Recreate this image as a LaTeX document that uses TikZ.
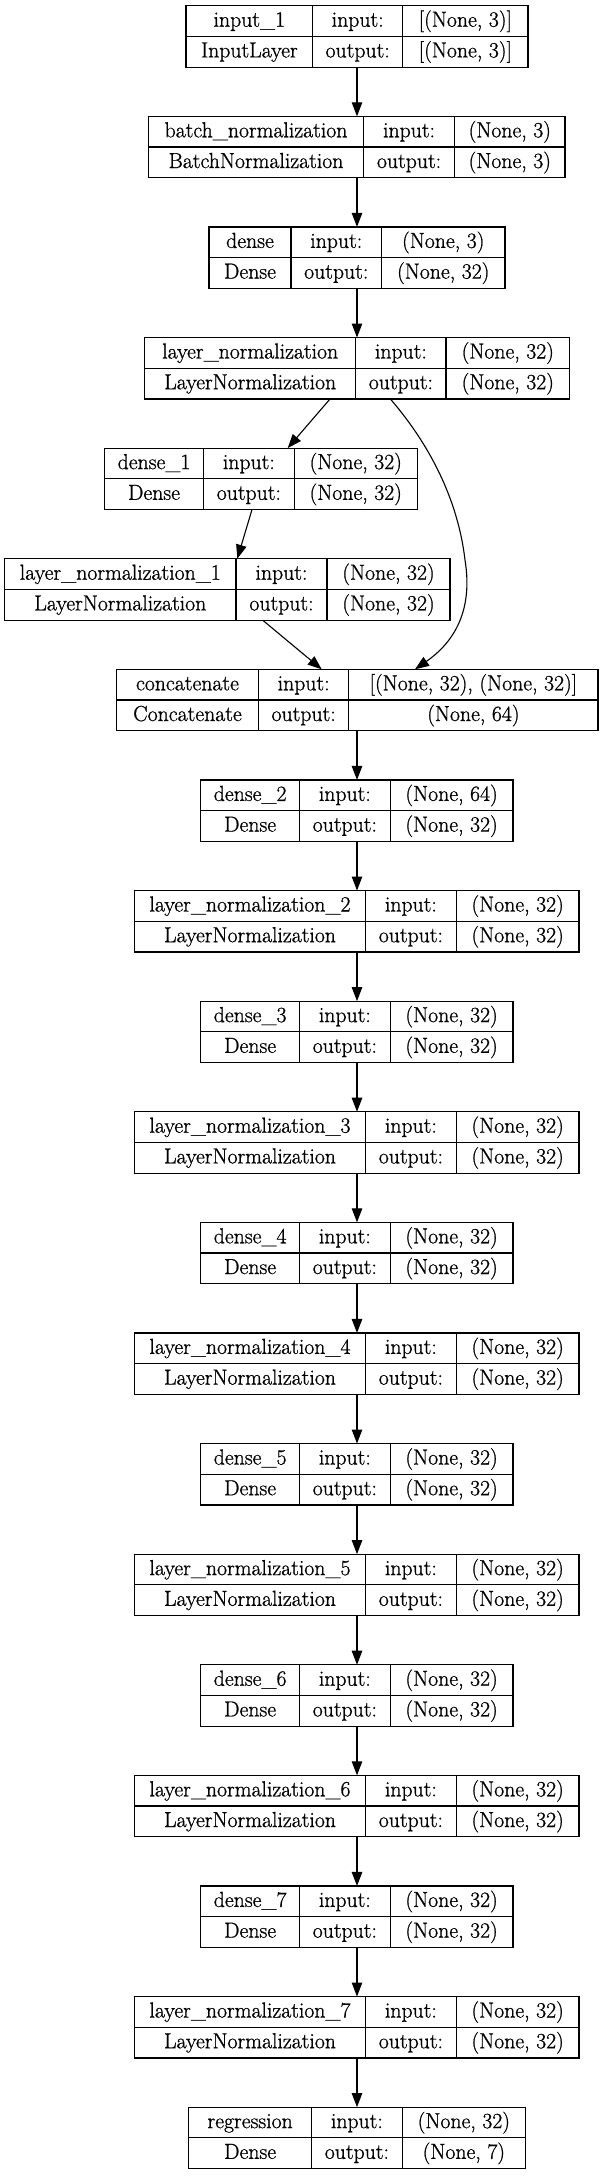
\documentclass[tikz,border=0pt]{standalone}
\usepackage{fontspec}
\setmainfont{Latin Modern Roman}[FakeBold=0.9]
\usetikzlibrary{arrows.meta}
\tikzset{
  boxframe/.style={draw=black, line width=1.2pt, inner sep=0pt, outer sep=0pt, rectangle},
  cellline/.style={draw=black, line width=1.2pt},
  lbl/.style={inner sep=0pt, anchor=base, font=\fontsize{21.75}{26}\selectfont},
  arr/.style={-{Triangle[length=14pt,width=10.5pt]}, line width=1.1pt},
}
\newcommand\kbox[6]{%
  \pgfmathsetmacro\kT{5.7+110.6*#2}%
  \pgfmathsetmacro\kB{\kT+61.5}%
  \pgfmathsetmacro\kM{\kT+30.75}%
  \node[boxframe, minimum width={#6-#3}, minimum height=61.5, anchor=north west] (#1) at (#3,\kT) {};
  \draw[cellline] (#3,\kM) -- (#6,\kM) (#4,\kT) -- (#4,\kB) (#5,\kT) -- (#5,\kB);
  \pgfmathsetmacro\kca{(#3+#4)/2}%
  \pgfmathsetmacro\kcb{(#4+#5)/2}%
  \pgfmathsetmacro\kcc{(#5+#6)/2}%
  \def\kname{#1}%
}
\newcommand\ktext[4]{%
  \node[lbl] (\kname-name) at (\kca,\kT+21) {#1};
  \node[lbl] (\kname-type) at (\kca,\kT+51.7) {#2};
  \node[lbl] (\kname-inl) at (\kcb,\kT+21) {input:};
  \node[lbl] (\kname-outl) at (\kcb,\kT+51.7) {output:};
  \node[lbl] (\kname-in) at (\kcc,\kT+21) {#3};
  \node[lbl] (\kname-out) at (\kcc,\kT+51.7) {#4};
}
\begin{document}
\begin{tikzpicture}[x=1pt,y=-1pt]
\fill[white] (0,0) rectangle (602,2176);
\useasboundingbox (0,0) rectangle (602,2176);
\coordinate (axis) at (357,0);

\kbox{in1}{0}{186}{312.7}{402.7}{528}
\ktext{input\_1}{InputLayer}{[(None, 3)]}{[(None, 3)]}
\kbox{bn}{1}{148.5}{363.5}{454.6}{565}
\ktext{batch\_normalization}{BatchNormalization}{(None, 3)}{(None, 3)}
\kbox{d0}{2}{209}{291}{381.5}{505}
\ktext{dense}{Dense}{(None, 3)}{(None, 32)}
\kbox{ln0}{3}{144.6}{355.8}{446}{569.6}
\ktext{layer\_normalization}{LayerNormalization}{(None, 32)}{(None, 32)}
\kbox{d1}{4}{104.6}{203.5}{294.2}{417.3}
\ktext{dense\_1}{Dense}{(None, 32)}{(None, 32)}
\kbox{ln1}{5}{4.6}{236}{327}{450}
\ktext{layer\_normalization\_1}{LayerNormalization}{(None, 32)}{(None, 32)}
\kbox{cat}{6}{116.5}{258.5}{348.8}{598}
\ktext{concatenate}{Concatenate}{[(None, 32), (None, 32)]}{(None, 64)}
\kbox{d2}{7}{200.8}{299.5}{390.2}{513}
\ktext{dense\_2}{Dense}{(None, 64)}{(None, 32)}
\kbox{ln2}{8}{134.5}{365.5}{456.3}{579}
\ktext{layer\_normalization\_2}{LayerNormalization}{(None, 32)}{(None, 32)}
\kbox{d3}{9}{200.8}{299.5}{390.2}{513}
\ktext{dense\_3}{Dense}{(None, 32)}{(None, 32)}
\kbox{ln3}{10}{134.5}{365.5}{456.3}{579}
\ktext{layer\_normalization\_3}{LayerNormalization}{(None, 32)}{(None, 32)}
\kbox{d4}{11}{200.8}{299.5}{390.2}{513}
\ktext{dense\_4}{Dense}{(None, 32)}{(None, 32)}
\kbox{ln4}{12}{134.5}{365.5}{456.3}{579}
\ktext{layer\_normalization\_4}{LayerNormalization}{(None, 32)}{(None, 32)}
\kbox{d5}{13}{200.8}{299.5}{390.2}{513}
\ktext{dense\_5}{Dense}{(None, 32)}{(None, 32)}
\kbox{ln5}{14}{134.5}{365.5}{456.3}{579}
\ktext{layer\_normalization\_5}{LayerNormalization}{(None, 32)}{(None, 32)}
\kbox{d6}{15}{200.8}{299.5}{390.2}{513}
\ktext{dense\_6}{Dense}{(None, 32)}{(None, 32)}
\kbox{ln6}{16}{134.5}{365.5}{456.3}{579}
\ktext{layer\_normalization\_6}{LayerNormalization}{(None, 32)}{(None, 32)}
\kbox{d7}{17}{200.8}{299.5}{390.2}{513}
\ktext{dense\_7}{Dense}{(None, 32)}{(None, 32)}
\kbox{ln7}{18}{134.5}{365.5}{456.3}{579}
\ktext{layer\_normalization\_7}{LayerNormalization}{(None, 32)}{(None, 32)}
\kbox{reg}{19}{188.8}{311.5}{402.3}{525.4}
\ktext{regression}{Dense}{(None, 32)}{(None, 7)}

% straight connectors
\foreach \a/\b in {in1/bn, bn/d0, d0/ln0, cat/d2, d2/ln2, ln2/d3, d3/ln3, ln3/d4, d4/ln4, ln4/d5, d5/ln5, ln5/d6, d6/ln6, ln6/d7, d7/ln7, ln7/reg}
  \draw[arr] (\a.south -| axis) -- (\b.north -| axis);

% branching connectors
\draw[arr] ([xshift=-27.1pt]ln0.south) -- ([xshift=26.75pt]d1.north);
\draw[arr] ([xshift=-8.95pt]d1.south) -- ([xshift=10pt]ln1.north);
\draw[arr] ([xshift=35.4pt]ln1.south) -- ([xshift=-35.55pt]cat.north);
\draw[arr] ([xshift=33.3pt]ln0.south) .. controls (430,445) and (458,500) .. (465,560)
  .. controls (474,615) and (450,645) .. ([xshift=57.75pt]cat.north);
\end{tikzpicture}
\end{document}
